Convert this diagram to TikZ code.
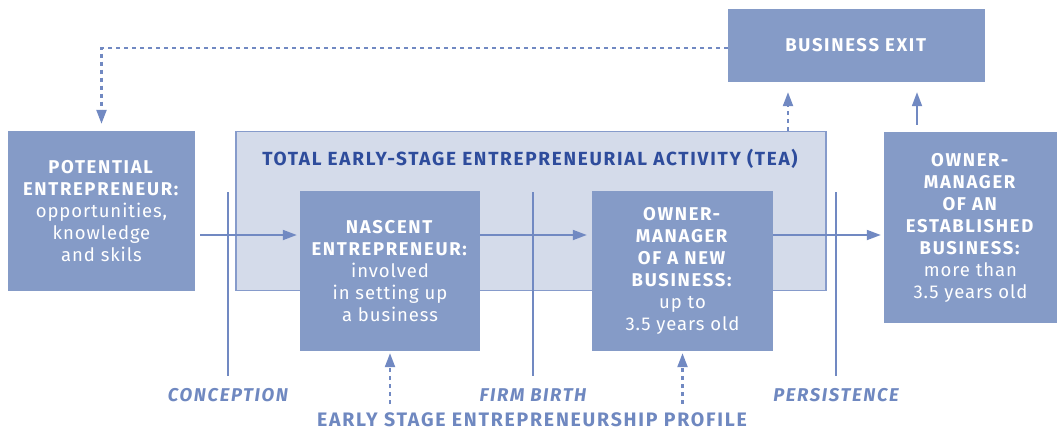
\documentclass[tikz,border=0pt]{standalone}
\usepackage{fontspec}
\setmainfont{Fira Sans}[LetterSpace=5, BoldFeatures={LetterSpace=9}, BoldItalicFeatures={LetterSpace=9}]
\usetikzlibrary{arrows.meta,positioning}

\definecolor{boxblue}{HTML}{859BC7}
\definecolor{teafill}{HTML}{D4DBEA}
\definecolor{lineblue}{HTML}{7189C2}
\definecolor{labelblue}{HTML}{6F88C0}
\definecolor{titleblue}{HTML}{2E4C9C}

\tikzset{
  stagebox/.style={fill=boxblue, text=white, align=center, inner sep=0pt,
    font=\fontsize{18.5}{22}\selectfont},
  flow/.style={draw=lineblue, line width=1.8pt, -{Triangle[length=14pt,width=10pt]}},
  dashflow/.style={flow, line width=2.2pt, dash pattern=on 4pt off 4pt},
  marker/.style={draw=lineblue, line width=1.8pt},
  phase/.style={text=labelblue, inner sep=0pt, font=\fontsize{18.5}{20}\selectfont\bfseries\itshape},
}

\begin{document}
\begin{tikzpicture}[x=1pt,y=-1pt]
    \useasboundingbox (0,0) rectangle (1059,431);

    % TEA band behind the two early stages
    \node[fill=teafill, draw=lineblue!85, line width=1.2pt, inner sep=0pt,
      minimum width=590pt, minimum height=159pt] (tea) at (531,211) {};
    \node[text=titleblue, font=\fontsize{19}{22}\selectfont\bfseries] (teatitle) at (530,159)
      {TOTAL EARLY-STAGE ENTREPRENEURIAL ACTIVITY (TEA)};

    \node[stagebox, minimum width=187pt, minimum height=160pt] (pot) at (101.5,211)
      {\textbf{POTENTIAL}\\\textbf{ENTREPRENEUR:}\\opportunities,\\knowledge\\and skils};
    \node[stagebox, minimum width=180pt, minimum height=160pt] (nasc) at (390,271)
      {\textbf{NASCENT}\\\textbf{ENTREPRENEUR:}\\involved\\in setting up\\a business};
    \node[stagebox, minimum width=181pt, minimum height=160pt] (newb) at (682.5,271)
      {\textbf{OWNER-}\\\textbf{MANAGER}\\\textbf{OF A NEW}\\\textbf{BUSINESS:}\\up to\\3.5 years old};
    \node[stagebox, minimum width=173pt, minimum height=191pt] (estab) at (970.5,227.5)
      {\textbf{OWNER-}\\\textbf{MANAGER}\\\textbf{OF AN}\\\textbf{ESTABLISHED}\\\textbf{BUSINESS:}\\more than\\3.5 years old};
    \node[stagebox, minimum width=257pt, minimum height=73pt] (exit) at (856.5,45.5)
      {\textbf{BUSINESS EXIT}};

    % phases along the bottom
    \node[phase] (concep) at (228,395) {CONCEPTION};
    \node[phase] (birth) at (533,395) {FIRM BIRTH};
    \node[phase] (persist) at (836,395) {PERSISTENCE};
    \node[text=labelblue, inner sep=0pt, font=\fontsize{19.5}{20}\selectfont\bfseries] (profile) at (532,420)
      {EARLY STAGE ENTREPRENEURSHIP PROFILE};

    \coordinate (flowline) at (0,235);
    \coordinate (cut) at (0,192);
    \coordinate (cutend) at (0,376);
    \coordinate (dashfoot) at (0,404);

    \foreach \p in {concep,birth,persist}
      \draw[marker] (\p.north |- cut) -- (\p.north |- cutend);

    % main flow
    \draw[flow, shorten >=3pt] ([xshift=5pt]pot.east |- flowline) -- (nasc.west |- flowline);
    \draw[flow, shorten >=5pt] (nasc.east |- flowline) -- (newb.west |- flowline);
    \draw[flow, shorten >=3pt] (newb.east |- flowline) -- (estab.west |- flowline);

    % profile and exits
    \draw[dashflow, shorten >=2pt] (nasc.south |- dashfoot) -- (nasc.south);
    \draw[dashflow, shorten >=2pt] (newb.south |- dashfoot) -- (newb.south);
    \draw[dashflow, shorten >=10pt] ([xshift=-68.5pt]exit.south |- tea.north) -- ([xshift=-68.5pt]exit.south);
    \draw[flow, shorten <=7pt, shorten >=10pt] ([xshift=60.5pt]exit.south |- estab.north) -- ([xshift=60.5pt]exit.south);
    \draw[dashflow, shorten >=7pt] ([yshift=-2.5pt]exit.west) -| (pot.north);

\end{tikzpicture}
\end{document}
